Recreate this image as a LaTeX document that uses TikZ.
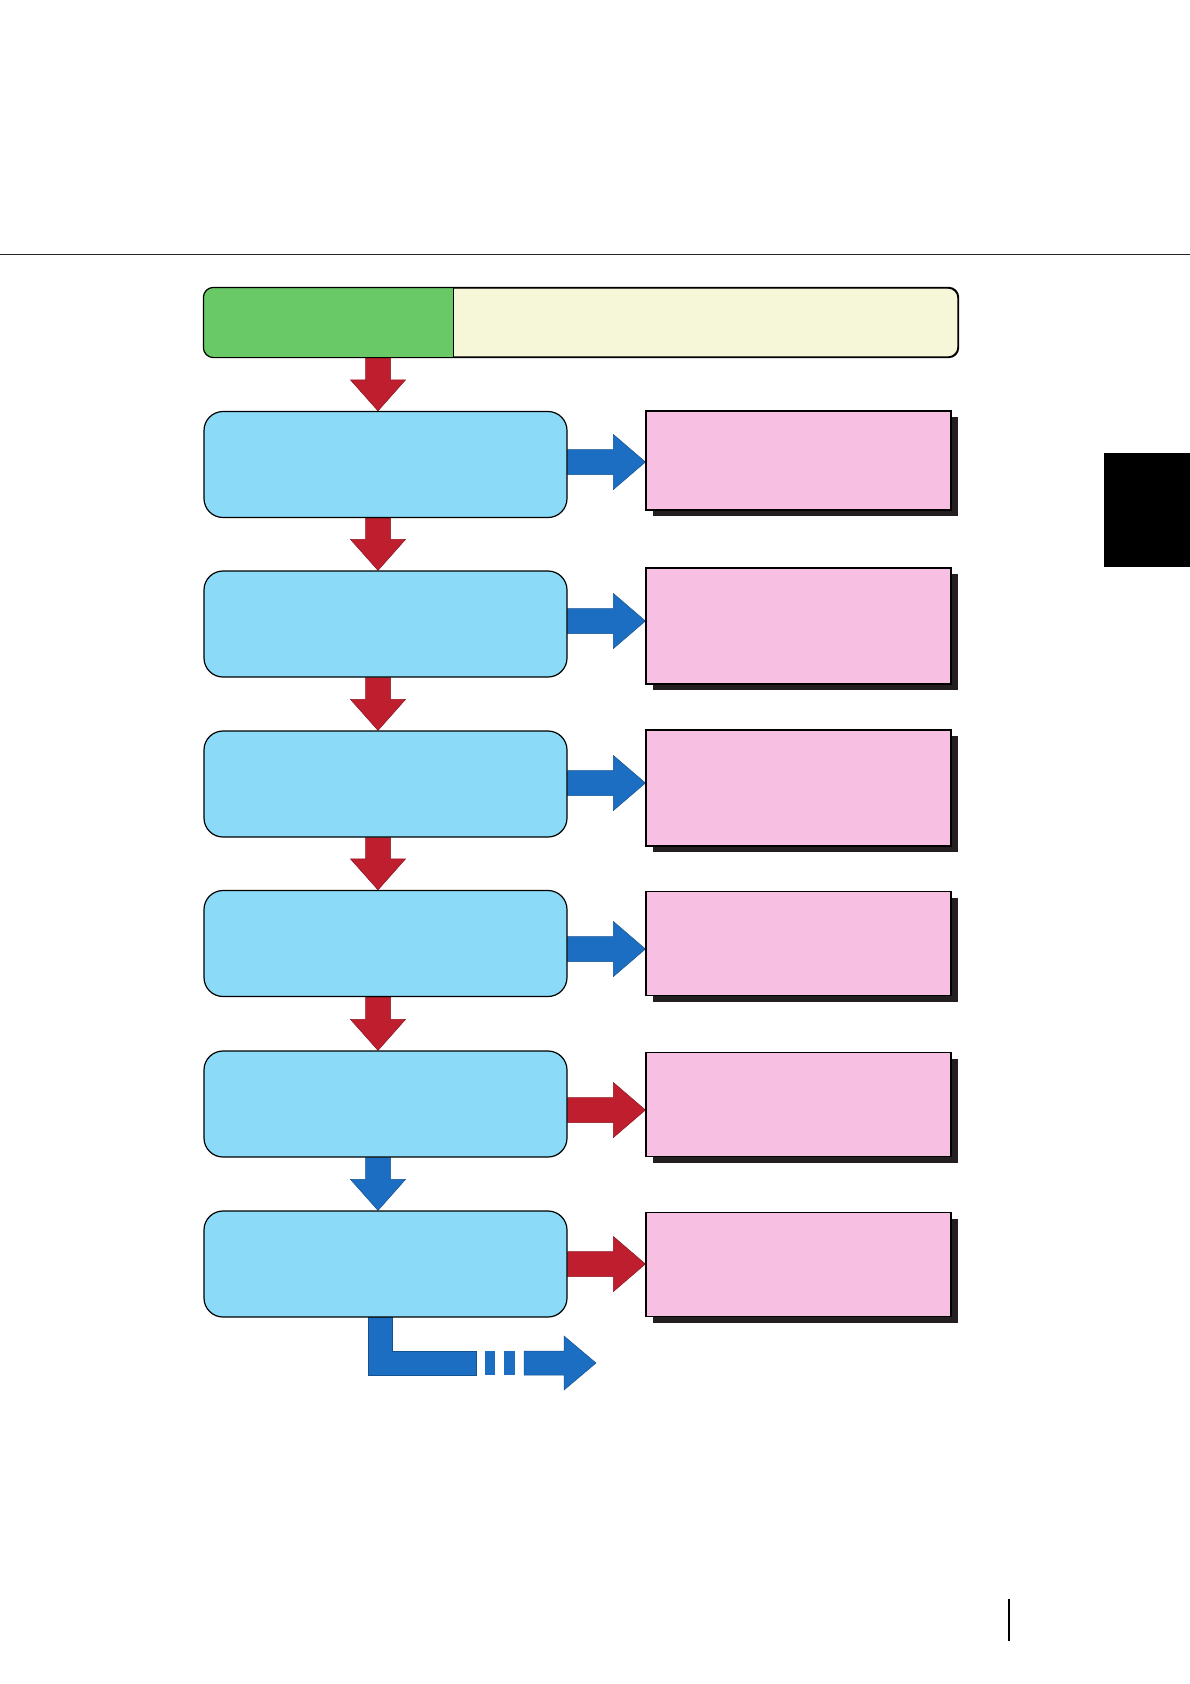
\documentclass[tikz,border=0pt]{standalone}
\usetikzlibrary{calc,shadows}
\definecolor{cRed}{HTML}{BE1E2D}
\definecolor{cBlue}{HTML}{1B6EC2}
\definecolor{cLB}{HTML}{8BDAF7}
\definecolor{cPink}{HTML}{F7C0E3}
\definecolor{cGreen}{HTML}{69C967}
\definecolor{cCream}{HTML}{F6F7D9}
\definecolor{cShadow}{HTML}{231F20}
\pgfdeclarelayer{bg}
\pgfsetlayers{bg,main}
\tikzset{
  stepbox/.style={draw=black, line width=1.2, fill=cLB, rounded corners=19,
    minimum width=363, minimum height=106, inner sep=0},
  notebox/.style={draw=black, line width=1.2, fill=cPink, minimum width=305, inner sep=0,
    drop shadow={fill=cShadow, opacity=1, shadow xshift=6.5pt, shadow yshift=-6pt}},
  fatarrow/.style={line width=0.5, line join=miter},
}
\newcommand\fatdown[3]{%
  \filldraw[fatarrow, fill=#3, draw=#3!75!black] let \p1=(ax |- #1.south), \p2=(ax |- #2.north) in
  (\x1-12.5pt,\y1) -- (\x1+12.5pt,\y1) -- (\x1+12.5pt,\y2+31pt) -- (\x1+27.5pt,\y2+31pt)
  -- (\x1,\y2) -- (\x1-27.5pt,\y2+31pt) -- (\x1-12.5pt,\y2+31pt) -- cycle;}
\newcommand\fatright[4]{%
  \filldraw[fatarrow, fill=#4, draw=#4!75!black] let \p1=(#1.east |- 0,#3), \p2=(#2.west |- 0,#3) in
  (\x1,\y1+12.5pt) -- (\x2-32pt,\y1+12.5pt) -- (\x2-32pt,\y1+27.5pt) -- (\x2,\y1)
  -- (\x2-32pt,\y1-27.5pt) -- (\x2-32pt,\y1-12.5pt) -- (\x1,\y1-12.5pt) -- cycle;}
\begin{document}
\begin{tikzpicture}[x=1pt,y=-1pt]
\useasboundingbox (0,0) rectangle (1190,1684);
% header rule and side tab
\draw[line width=1.6, black!85] (0,254.5) -- (1190,254.5);
\fill[black] (1104,453) rectangle (1190,567);
\draw[line width=2, black] (1009,1599) -- (1009,1641);
\coordinate (ax) at (378,0);
% top bar
\node[draw=black, line width=1.2, fill=cCream, rounded corners=10, minimum width=754,
  minimum height=69, inner sep=0] (bar) at (581,322.5) {};
\begin{scope}
  \clip[rounded corners=10] (bar.north west) rectangle (bar.south east);
  \fill[cGreen] (bar.north west) rectangle (453,357);
\end{scope}
\draw[line width=1.2, rounded corners=10] (bar.north west) rectangle (bar.south east);
\draw[line width=1] (453,288) -- (453,357);
% step boxes
\node[stepbox] (b1) at (385.5,464.5) {};
\node[stepbox] (b2) at (385.5,624) {};
\node[stepbox] (b3) at (385.5,784) {};
\node[stepbox] (b4) at (385.5,943.5) {};
\node[stepbox] (b5) at (385.5,1104) {};
\node[stepbox] (b6) at (385.5,1264) {};
% note boxes
\node[notebox, minimum height=99] (p1) at (798.5,460.5) {};
\node[notebox, minimum height=116] (p2) at (798.5,626) {};
\node[notebox, minimum height=116] (p3) at (798.5,788) {};
\node[notebox, minimum height=104] (p4) at (798.5,943.5) {};
\node[notebox, minimum height=104] (p5) at (798.5,1104.7) {};
\node[notebox, minimum height=104] (p6) at (798.5,1264.7) {};
\begin{pgfonlayer}{bg}
\fatdown{bar}{b1}{cRed}
\fatdown{b1}{b2}{cRed}
\fatdown{b2}{b3}{cRed}
\fatdown{b3}{b4}{cRed}
\fatdown{b4}{b5}{cRed}
\fatdown{b5}{b6}{cBlue}
\fatright{b1}{p1}{462}{cBlue}
\fatright{b2}{p2}{621}{cBlue}
\fatright{b3}{p3}{783}{cBlue}
\fatright{b4}{p4}{949}{cBlue}
\fatright{b5}{p5}{1110}{cRed}
\fatright{b6}{p6}{1264}{cRed}
% bottom continuation arrow
\coordinate (lend) at (596,1363);
\filldraw[fatarrow, fill=cBlue, draw=cBlue!75!black] let \p1=(380,0 |- b6.south) in
  (\x1-12pt,\y1) -- (\x1+12pt,\y1) -- (\x1+12pt,1351) -- (476,1351) -- (476,1375) -- (\x1-12pt,1375) -- cycle;
\fill[cBlue] (485,1351) rectangle (495,1375);
\fill[cBlue] (504,1351) rectangle (515,1375);
\filldraw[fatarrow, fill=cBlue, draw=cBlue!75!black] let \p2=(lend) in
  (524,1351) -- (\x2-32pt,1351) -- (\x2-32pt,1336) -- (\x2,\y2) -- (\x2-32pt,1390) -- (\x2-32pt,1375) -- (524,1375) -- cycle;
\end{pgfonlayer}
\end{tikzpicture}
\end{document}
